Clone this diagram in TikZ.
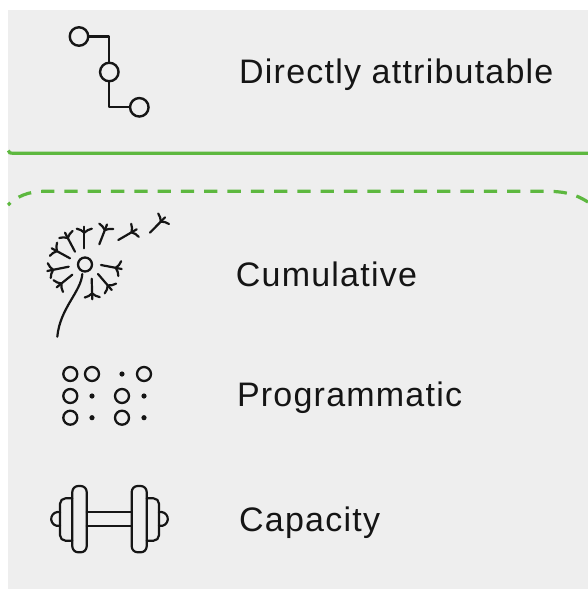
\documentclass[tikz,border=0pt]{standalone}
\usepackage{fontspec}
\usetikzlibrary{calc}
\setmainfont[LetterSpace=3.6]{Liberation Sans}
\definecolor{panel}{HTML}{EEEEEE}
\definecolor{lgreen}{HTML}{5DB83F}
\definecolor{ink}{HTML}{151515}
\tikzset{
 icon/.style={draw=ink,line width=2.2pt,line cap=round,line join=round},
 ring/.style={draw=ink,line width=2.4pt,fill=panel,circle,inner sep=0pt,minimum size=18.5pt},
 sring/.style={draw=ink,line width=2.3pt,circle,inner sep=0pt,minimum size=14pt},
 dotn/.style={fill=ink,circle,inner sep=0pt,minimum size=5.2pt},
 lab/.style={anchor=base west,font=\fontsize{34}{38}\selectfont,text=ink,inner sep=0pt},
}
\newcommand{\seedicon}[4]{%
 \coordinate (S) at (#1,#2); \coordinate (T) at (#3,#4);
 \coordinate (J) at ($(T)!6pt!(S)$);
 \coordinate (K) at ($(T)!2pt!(S)$);
 \draw[icon] (S) -- (T);
 \draw[icon] ($(K)!7.5pt!90:(T)$) to[bend left=15] (J) to[bend left=15] ($(K)!7.5pt!-90:(T)$);
}
\begin{document}
\begin{tikzpicture}[x=1pt,y=-1pt]
\useasboundingbox (0,0) rectangle (588,589);
\fill[white] (0,0) rectangle (588,589);
\fill[panel] (8.3,9.7) rectangle (588,589);
\draw[lgreen,line width=3.2pt] (8.3,150.5) .. controls (9,153) and (10,153.3) .. (13,153.3) -- (588,153.3);
\draw[lgreen,line width=3.2pt,dash pattern=on 13.3pt off 10pt,dash phase=10pt] (8,205) .. controls (16,197) and (28,191.3) .. (44,191.3) -- (545,191.3) .. controls (565,191.3) and (575,194) .. (588,202);
% path icon
\node[ring] (a) at (79,36.5) {};
\node[ring] (b) at (109.3,72) {};
\node[ring] (c) at (139.3,107.3) {};
\draw[icon,line cap=butt] (a) -| (b);
\draw[icon,line cap=butt] (b) |- (c);
% dandelion
\node[sring] (h) at (85,264.5) {};
\coordinate (stemtop) at (82.3,274);
\coordinate (stemend) at (57.3,336.7);
\draw[icon] (stemtop) .. controls (81,292) and (60,308) .. (stemend);
\seedicon{84.3}{248.3}{84.3}{226.7}
\seedicon{75}{251.7}{65}{232.7}
\seedicon{70}{258.3}{51.7}{248.3}
\seedicon{68.7}{266.7}{47.3}{271}
\seedicon{72.3}{274.7}{56.7}{287.3}
\seedicon{91.7}{278.7}{92.3}{299.3}
\seedicon{98}{274}{111.7}{290}
\seedicon{101}{265}{121.7}{269}
\seedicon{99.3}{244.3}{107}{224.5}
\seedicon{118.3}{240}{136.7}{229.3}
\seedicon{150}{232.7}{165}{217.3}
% dots
\foreach \n/\x/\y in {p1/70.3/374,p2/92/374,p3/144/374,p4/70.3/396,p5/122/396,p6/70.3/417.7,p7/122/417.7}
 \node[sring] (\n) at (\x,\y) {};
\foreach \n/\x/\y in {q1/122/374,q2/92/396,q3/144/396,q4/92/417.7,q5/144/417.7}
 \node[dotn] (\n) at (\x,\y) {};
% dumbbell
\begin{scope}[icon,line width=2.2pt]
\draw[rounded corners=6pt] (72.3,486) rectangle (86.7,552.3);
\draw[rounded corners=6pt] (131.7,486) rectangle (146.7,552.3);
\draw[rounded corners=5.5pt] (72.3,498.3) -- (60,498.3) -- (60,540.7) -- (72.3,540.7);
\draw[rounded corners=5.5pt] (146.7,498.3) -- (159,498.3) -- (159,540.7) -- (146.7,540.7);
\draw (60,512.2) arc[start angle=-75,delta angle=-210,radius=7];
\draw (159,512.2) arc[start angle=-105,delta angle=210,radius=7];
\draw (86.7,512.3) -- (131.7,512.3);
\draw (86.7,525.7) -- (131.7,525.7);
\end{scope}
% labels
\node[lab] (t1) at (239,83.3) {Directly attributable};
\node[lab] (t2) at (235.7,286.7) {Cumulative};
\node[lab] (t3) at (236.8,406.7) {Programmatic};
\node[lab] (t4) at (239,531.7) {Capacity};
\end{tikzpicture}
\end{document}
